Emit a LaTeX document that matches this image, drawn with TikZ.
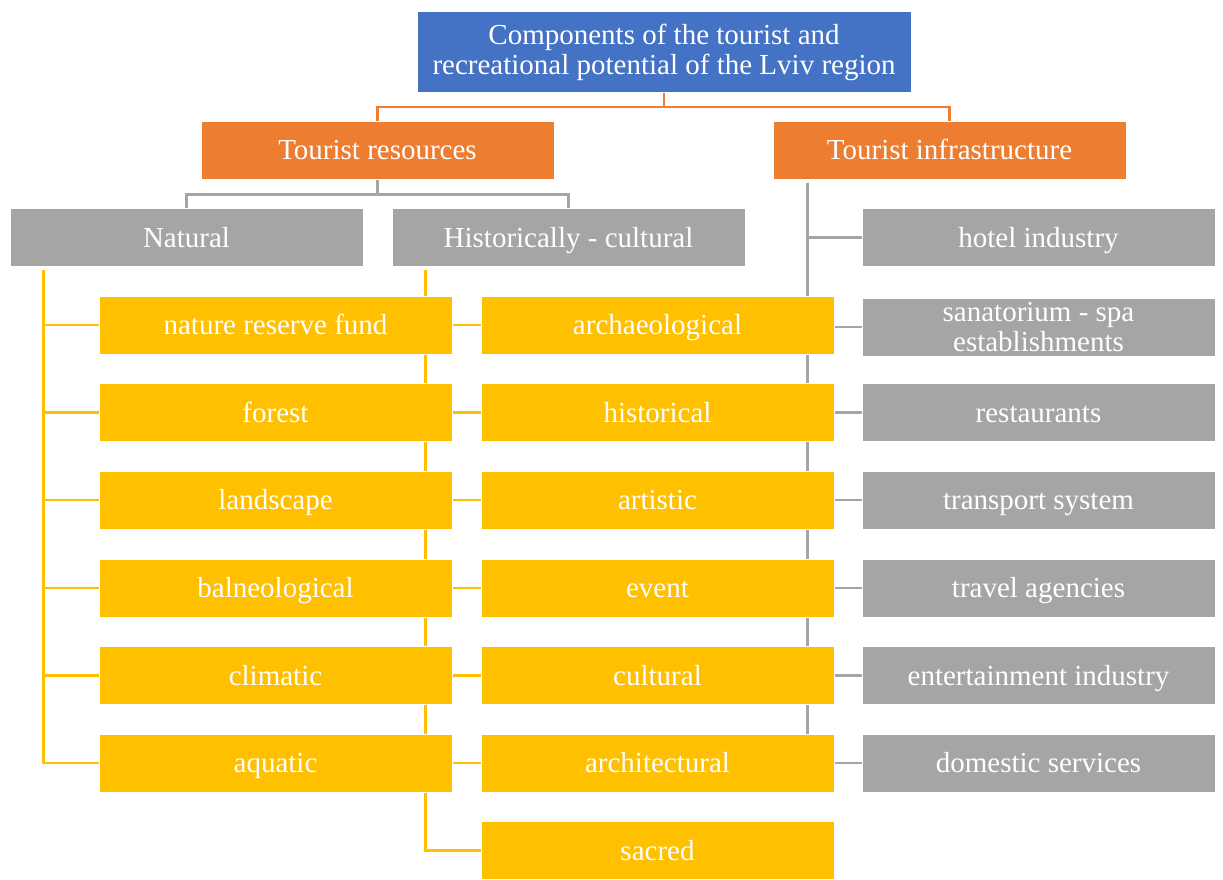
\documentclass[tikz,border=0pt]{standalone}
\usepackage{fontspec}
\setmainfont{Liberation Serif}
\usetikzlibrary{backgrounds,calc}
\definecolor{cblue}{HTML}{4472C4}
\definecolor{corange}{HTML}{ED7D31}
\definecolor{cgray}{HTML}{A5A5A5}
\definecolor{cyellow}{HTML}{FFC000}
\begin{document}
\begin{tikzpicture}[x=1pt,y=-1pt,
  box/.style={draw=white,line width=1pt,minimum width=353pt,minimum height=58pt,inner sep=0pt,text=white,font=\fontsize{29}{30}\selectfont,align=center},
  one/.style={text height=20pt,text depth=1pt},
  ybox/.style={box,one,fill=cyellow},
  gbox/.style={box,one,fill=cgray},
  obox/.style={box,one,fill=corange},
  oline/.style={draw=corange,line width=2.5pt},
  gline/.style={draw=cgray,line width=2.5pt},
  yline/.style={draw=cyellow,line width=2.5pt}]
\useasboundingbox (0,0) rectangle (1223,879);
\node[box,fill=cblue,minimum width=494pt,minimum height=81pt] (top) at (664,52) {Components of the tourist and\\recreational potential of the Lviv region};
\node[obox] (res) at (377.5,150) {Tourist resources};
\node[obox] (inf) at (949.5,150) {Tourist infrastructure};
\node[gbox] (nat) at (186.5,237.5) {Natural};
\node[gbox] (hist) at (568.5,237.5) {Historically - cultural};
% column 1
\node[ybox] (n1) at (275.5,325) {nature reserve fund};
\node[ybox] (n2) at (275.5,412.5) {forest};
\node[ybox] (n3) at (275.5,500) {landscape};
\node[ybox] (n4) at (275.5,588) {balneological};
\node[ybox] (n5) at (275.5,675.5) {climatic};
\node[ybox] (n6) at (275.5,763) {aquatic};
% column 2
\node[ybox] (h1) at (657.5,325) {archaeological};
\node[ybox] (h2) at (657.5,412.5) {historical};
\node[ybox] (h3) at (657.5,500) {artistic};
\node[ybox] (h4) at (657.5,588) {event};
\node[ybox] (h5) at (657.5,675.5) {cultural};
\node[ybox] (h6) at (657.5,763) {architectural};
\node[ybox] (h7) at (657.5,850.5) {sacred};
% column 3
\node[gbox] (i1) at (1038.5,237.5) {hotel industry};
\node[box,fill=cgray] (i2) at (1038.5,327) {sanatorium - spa\\establishments};
\node[gbox] (i3) at (1038.5,412.5) {restaurants};
\node[gbox] (i4) at (1038.5,500) {transport system};
\node[gbox] (i5) at (1038.5,588) {travel agencies};
\node[gbox] (i6) at (1038.5,675.5) {entertainment industry};
\node[gbox] (i7) at (1038.5,763) {domestic services};
\begin{scope}[on background layer]
\fill[white] (0,0) rectangle (1223,879);
\draw[oline] (top.south) -- ++(0,14) coordinate (tb);
\draw[oline] (res.north) |- (tb) -| (inf.north);
\draw[gline] (res.south) -- ++(0,15) coordinate (rb);
\draw[gline] (nat.north) |- (rb) -| (hist.north);
\coordinate (nx) at ($(nat.south west)+(34,3)$);
\draw[yline] (nx) |- (n6.west);
\foreach \k in {1,...,5} \draw[yline] (nx) |- (n\k.west);
\coordinate (hx) at ($(hist.south west)+(34,3)$);
\draw[yline] (hx) |- (h7.west);
\foreach \k in {1,...,6} \draw[yline] (hx) |- (h\k.west);
\coordinate (ix) at ($(inf.south west)+(35,3)$);
\draw[gline] (ix) |- (i7.west);
\foreach \k in {1,...,6} \draw[gline] (ix) |- (i\k.west);
\end{scope}
\end{tikzpicture}
\end{document}
